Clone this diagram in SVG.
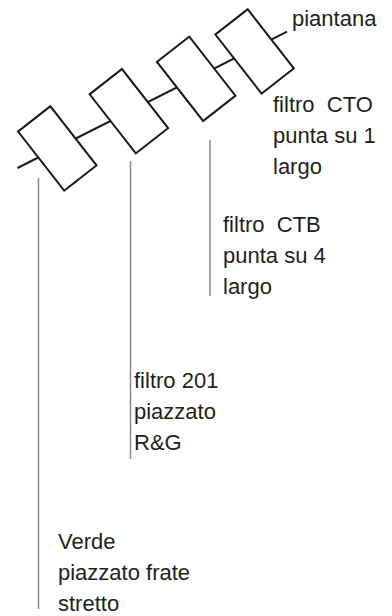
<svg xmlns="http://www.w3.org/2000/svg" width="392" height="616" viewBox="0 0 392 616">
  <style>
    .rod { stroke: #1a1a1a; stroke-width: 2; fill: none; }
    .lead { stroke: #8a8a8a; stroke-width: 1.5; fill: none; }
    .flt { fill: #ffffff; stroke: #1a1a1a; stroke-width: 2; }
    .lbl { font-family: "Liberation Sans", Arial, sans-serif; font-size: 22px; fill: #231f20; white-space: pre; }
  </style>
  <rect width="392" height="616" fill="#ffffff"/>
  <g id="connectors">
    <line class="rod" x1="17.5" y1="168" x2="287" y2="31.7"/>
    <line class="lead" x1="38.5" y1="178" x2="38.5" y2="609"/>
    <line class="lead" x1="130.5" y1="161" x2="130.5" y2="459"/>
    <line class="lead" x1="210" y1="140" x2="210" y2="296"/>
  </g>
  <g id="filter-verde" transform="translate(57.3,148.4) rotate(-38)">
    <rect class="flt" x="-20.5" y="-37.5" width="41" height="75"/>
  </g>
  <g id="filter-201" transform="translate(128.9,111.2) rotate(-38)">
    <rect class="flt" x="-20.5" y="-37.5" width="41" height="75"/>
  </g>
  <g id="filter-ctb" transform="translate(196.2,78.8) rotate(-38)">
    <rect class="flt" x="-20.5" y="-37.5" width="41" height="75"/>
  </g>
  <g id="filter-cto" transform="translate(254.6,51.4) rotate(-38)">
    <rect class="flt" x="-20.5" y="-37.5" width="41" height="75"/>
  </g>
  <g id="label-piantana">
    <text class="lbl" x="292" y="26">piantana</text>
  </g>
  <g id="label-cto">
    <text class="lbl" x="273" y="112">filtro  CTO</text>
    <text class="lbl" x="273" y="143">punta su 1</text>
    <text class="lbl" x="273" y="174">largo</text>
  </g>
  <g id="label-ctb">
    <text class="lbl" x="223" y="232">filtro  CTB</text>
    <text class="lbl" x="223" y="263">punta su 4</text>
    <text class="lbl" x="223" y="294">largo</text>
  </g>
  <g id="label-201">
    <text class="lbl" x="134" y="388">filtro 201</text>
    <text class="lbl" x="134" y="419">piazzato</text>
    <text class="lbl" x="134" y="450">R&amp;G</text>
  </g>
  <g id="label-verde">
    <text class="lbl" x="58" y="549">Verde</text>
    <text class="lbl" x="58" y="580">piazzato frate</text>
    <text class="lbl" x="58" y="611">stretto</text>
  </g>
</svg>
